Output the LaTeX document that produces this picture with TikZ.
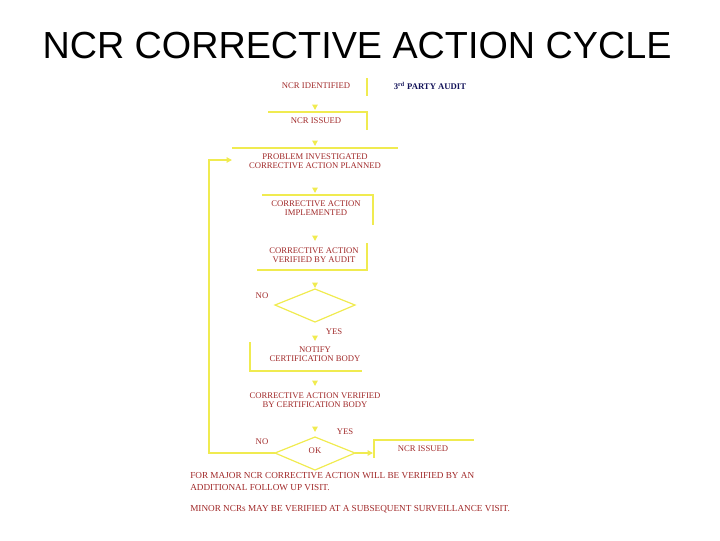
\documentclass[tikz,border=0pt]{standalone}
\usepackage{fontspec}
\setmainfont{Liberation Serif}
\newfontfamily\titlefont{Liberation Sans}
\usetikzlibrary{arrows.meta}
\definecolor{ln}{RGB}{240,235,80}
\definecolor{tx}{RGB}{160,40,40}
\begin{document}
\begin{tikzpicture}[x=0.75pt,y=-0.75pt,
 lbl/.style={text=tx,font=\fontsize{6.5}{7}\selectfont,align=center,inner sep=0pt},
 yl/.style={draw=ln,line width=0.9pt},
 arr/.style={yl,-{Triangle[length=4pt,width=4pt]}}]
\useasboundingbox (0,0) rectangle (720,540);
\node[font=\titlefont\fontsize{28.3}{32}\selectfont] (title) at (357,46) {NCR CORRECTIVE ACTION CYCLE};
\node[lbl] (n1) at (316,86) {NCR IDENTIFIED};
\node[font=\fontsize{6.5}{7}\selectfont\bfseries,text={rgb,255:red,20;green,20;blue,90}] (tp) at (430,86) {3\textsuperscript{rd} PARTY AUDIT};
\node[lbl] (n2) at (316,121) {NCR ISSUED};
\node[lbl] (n3) at (315,161) {PROBLEM INVESTIGATED\\CORRECTIVE ACTION PLANNED};
\node[lbl] (n4) at (316,208) {CORRECTIVE ACTION\\IMPLEMENTED};
\node[lbl] (n5) at (314,255) {CORRECTIVE ACTION\\VERIFIED BY AUDIT};
\node[lbl] (n6) at (315,354) {NOTIFY\\CERTIFICATION BODY};
\node[lbl] (n7) at (315,400) {CORRECTIVE ACTION VERIFIED\\BY CERTIFICATION BODY};
\node[lbl] (no1) at (262,296) {NO};
\node[lbl] (ye1) at (334,332) {YES};
\node[lbl] (no2) at (262,442) {NO};
\node[lbl] (ye2) at (345,432) {YES};
\node[lbl] (ok) at (315,451) {OK};
\node[lbl] (n8) at (423,449) {NCR ISSUED};
\node[lbl,font=\fontsize{6.9}{8}\selectfont,align=left,anchor=north west] (f1) at (190,472) {FOR MAJOR NCR CORRECTIVE ACTION WILL BE VERIFIED BY AN\\[1pt]ADDITIONAL FOLLOW UP VISIT.};
\node[lbl,font=\fontsize{6.9}{8}\selectfont,anchor=north west] (f2) at (190,505) {MINOR NCRs MAY BE VERIFIED AT A SUBSEQUENT SURVEILLANCE VISIT.};
% box edges
\draw[yl] (367,78) -- (367,96);
\draw[yl] (268,112) -- (367,112) -- (367,130);
\draw[yl] (232,148) -- (398,148);
\draw[yl] (262,195) -- (373,195) -- (373,225);
\draw[yl] (367,243) -- (367,270) -- (257,270);
\draw[yl] (250,342) -- (250,371) -- (362,371);
\draw[yl] (374,458) -- (374,440) -- (474,440);
% diamonds
\coordinate (d1) at (315,305);
\draw[yl] (275,305) -- (315,289) -- (355,305) -- (315,322) -- cycle;
\coordinate (d2) at (315,453);
\draw[yl] (275,453) -- (315,437) -- (355,453) -- (315,470) -- cycle;
% arrows
\foreach \y in {110,146,193,241,288,341,386,432}{\draw[arr] (315,\y-5) -- (315,\y);}
\draw[yl] (275,453) -- (209,453) -- (209,160) -- (226,160);
\draw[arr] (226,160) -- (232,160);
\draw[arr] (355,453) -- (373,453);
\end{tikzpicture}
\end{document}
